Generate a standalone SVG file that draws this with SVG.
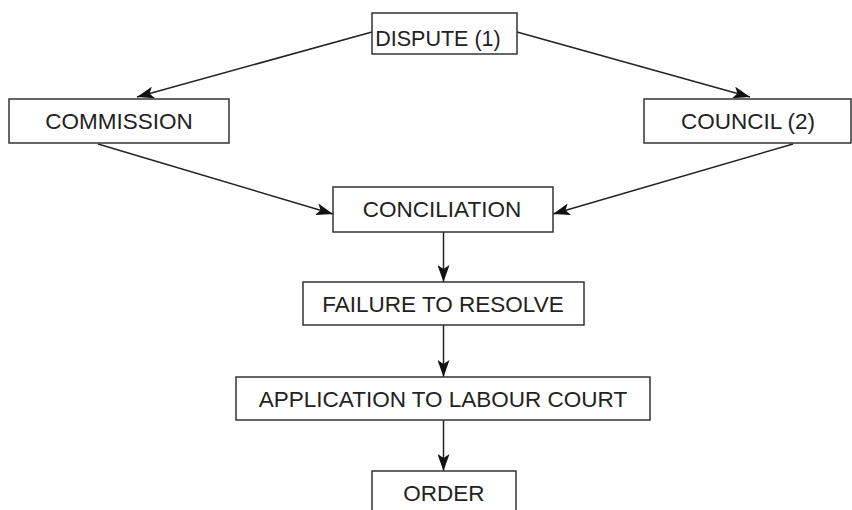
<svg xmlns="http://www.w3.org/2000/svg" width="852" height="510" viewBox="0 0 852 510">
<style>
.box{fill:#fff;stroke:#333;stroke-width:1.5}
.lbl{font-family:"Liberation Sans",Arial,sans-serif;font-size:22.5px;fill:#222;text-anchor:middle}
.con{stroke:#222;stroke-width:1.5;fill:none;marker-end:url(#ah)}
</style>
<defs>
<marker id="ah" markerWidth="17" markerHeight="12" refX="17" refY="6" orient="auto" markerUnits="userSpaceOnUse">
<path d="M0,0 L17,6 L0,12 L4,6 Z" fill="#111"/>
</marker>
</defs>
<rect width="852" height="510" fill="#fff"/>
<g id="connectors">
<line class="con" x1="372" y1="32" x2="137" y2="97"/>
<line class="con" x1="517" y1="32" x2="750" y2="97"/>
<line class="con" x1="98" y1="144" x2="333" y2="214"/>
<line class="con" x1="793" y1="144" x2="553" y2="214"/>
<line class="con" x1="443.5" y1="232" x2="443.5" y2="282"/>
<line class="con" x1="443.5" y1="325" x2="443.5" y2="377"/>
<line class="con" x1="443.5" y1="420" x2="443.5" y2="471"/>
</g>
<g id="dispute">
<rect class="box" x="372" y="13" width="145" height="41"/>
<text class="lbl" x="438" y="46" style="font-size:21.5px">DISPUTE (1)</text>
</g>
<g id="commission">
<rect class="box" x="9" y="99" width="220" height="44"/>
<text class="lbl" x="119" y="129">COMMISSION</text>
</g>
<g id="council">
<rect class="box" x="644" y="99" width="207" height="44"/>
<text class="lbl" x="748" y="129">COUNCIL (2)</text>
</g>
<g id="conciliation">
<rect class="box" x="333" y="187" width="220" height="45"/>
<text class="lbl" x="442" y="217">CONCILIATION</text>
</g>
<g id="failure">
<rect class="box" x="303" y="282" width="281" height="43"/>
<text class="lbl" x="443" y="312">FAILURE TO RESOLVE</text>
</g>
<g id="application">
<rect class="box" x="236" y="377" width="414" height="43"/>
<text class="lbl" x="443" y="407">APPLICATION TO LABOUR COURT</text>
</g>
<g id="order">
<rect class="box" x="372" y="471" width="144" height="45"/>
<text class="lbl" x="444" y="501">ORDER</text>
</g>
</svg>
